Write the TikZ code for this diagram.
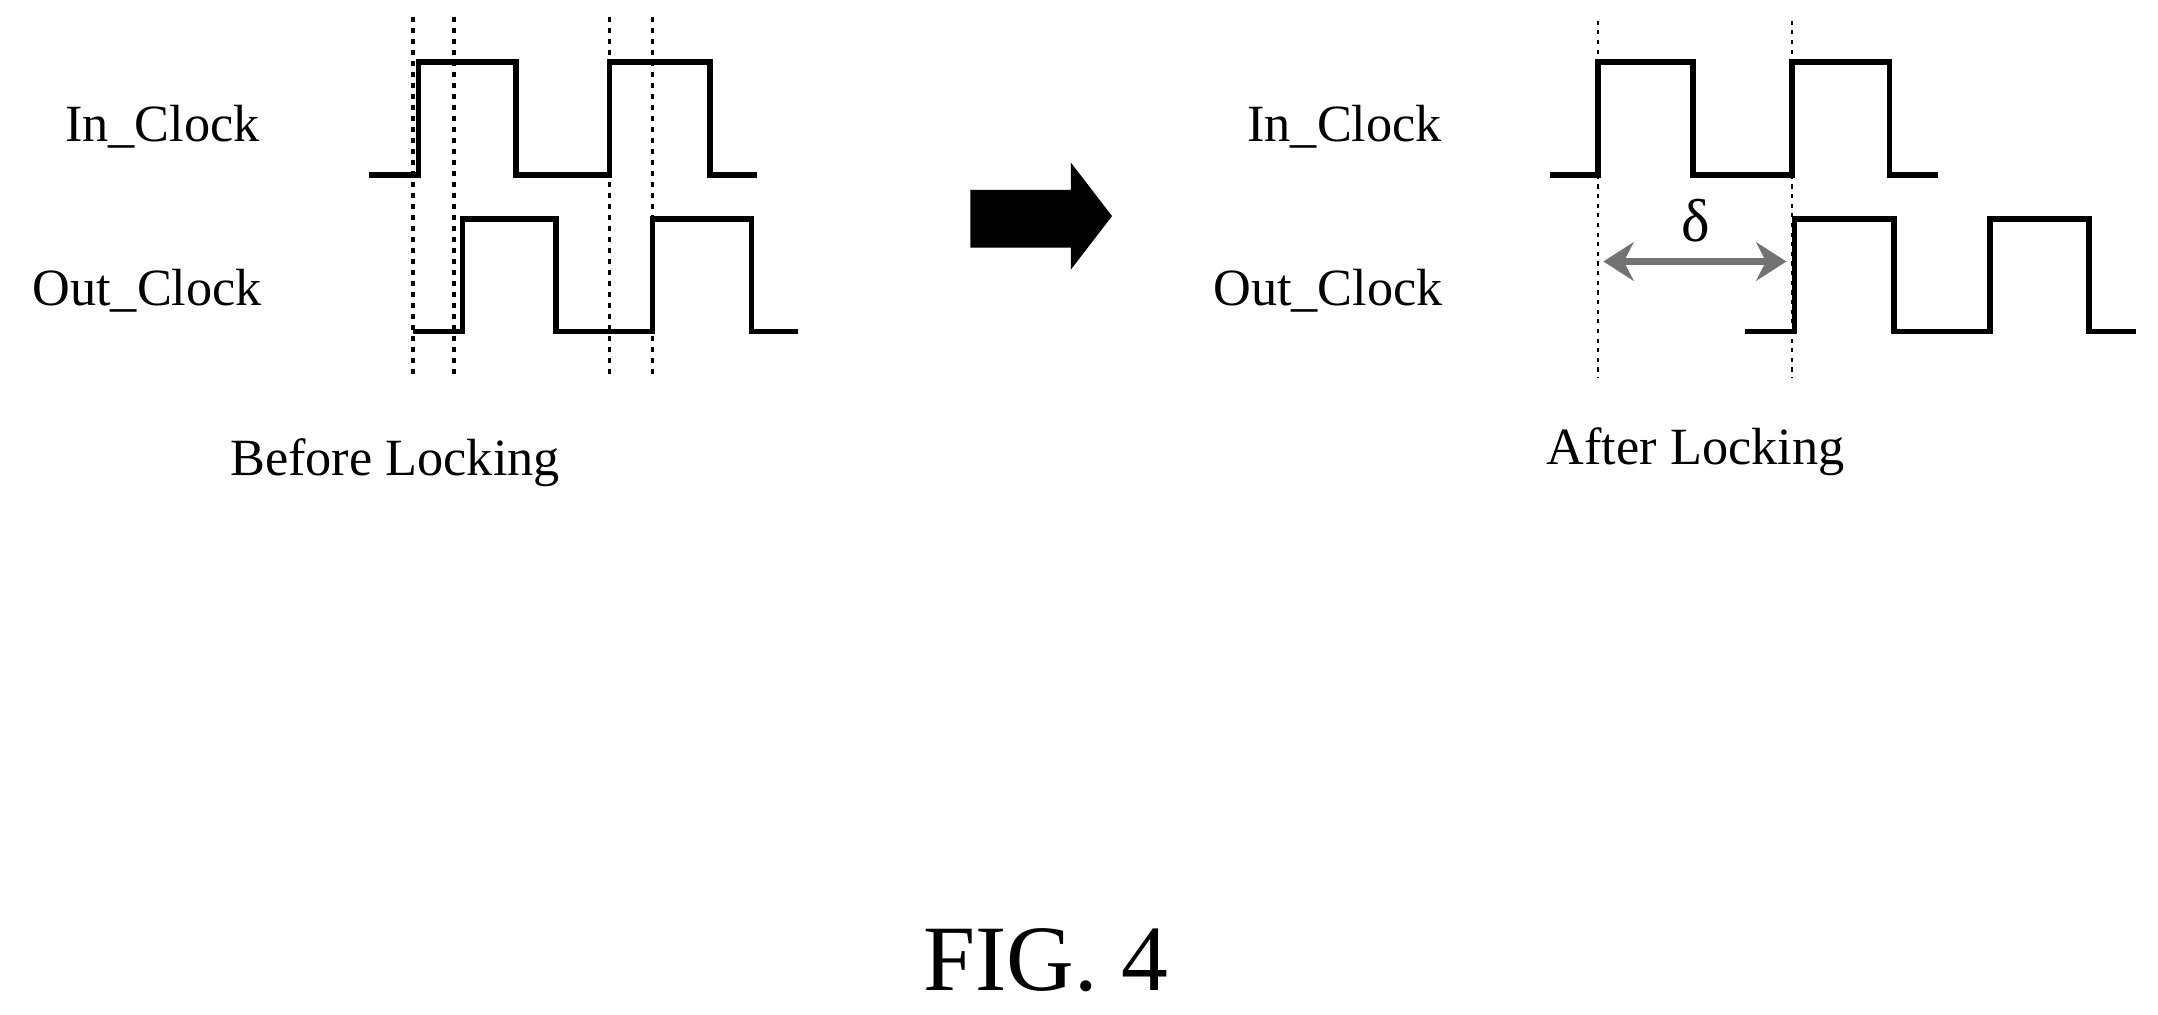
\documentclass[tikz,border=0pt]{standalone}
\usepackage{fontspec}
\setmainfont{Liberation Serif}
\usetikzlibrary{arrows.meta}
\begin{document}
\begin{tikzpicture}[x=1pt,y=-1pt,
  sig/.style={line width=4pt,line join=miter},
  guide/.style={line width=2.5pt,dash pattern=on 4pt off 4pt},
  guide2/.style={line width=2pt,dash pattern=on 3pt off 4pt},
  lbl/.style={font=\fontsize{38}{42}\selectfont,inner sep=0pt}]
\useasboundingbox (0,0) rectangle (1568,737);
\fill[white] (0,0) rectangle (1568,737);
% left
\draw[sig] (268,127) -- (304,127) -- (304,45) -- (375,45) -- (375,127) -- (443,127) -- (443,45) -- (516,45) -- (516,127) -- (550,127);
\draw[sig] (300,241) -- (336,241) -- (336,159) -- (404,159) -- (404,241) -- (474,241) -- (474,159) -- (546,159) -- (546,241) -- (580,241);
\foreach \x/\n in {300/a,330/b,443/c,474/d}{
  \coordinate (t\n) at (\x,12); \coordinate (b\n) at (\x,273);
  \draw[guide] (t\n) -- (b\n);}
\node[lbl] (inL) at (118,92) {In\_Clock};
\node[lbl] (outL) at (107,211) {Out\_Clock};
\node[lbl] (bef) at (287,336) {Before Locking};
% arrow
\fill[black] (705,138) -- (778,138) -- (778,118) -- (808,157) -- (778,196) -- (778,180) -- (705,180) -- cycle;
% right
\draw[sig] (1126,127) -- (1161,127) -- (1161,45) -- (1230,45) -- (1230,127) -- (1302,127) -- (1302,45) -- (1373,45) -- (1373,127) -- (1408,127);
\draw[sig] (1268,241) -- (1304,241) -- (1304,159) -- (1376,159) -- (1376,241) -- (1446,241) -- (1446,159) -- (1518,159) -- (1518,241) -- (1552,241);
\coordinate (te) at (1161,15); \coordinate (be) at (1161,275);
\coordinate (tf) at (1302,15); \coordinate (bf) at (1302,275);
\draw[guide2] (te) -- (be);
\draw[guide2] (tf) -- (bf);
\coordinate (dl) at (1165,190); \coordinate (dr) at (1298,190);
\draw[line width=5pt,draw=black!55,{Stealth[length=22pt,width=28pt]}-{Stealth[length=22pt,width=28pt]}] (dl) -- (dr);
\node[lbl,font=\fontsize{44}{48}\selectfont] (delta) at (1232,160) {δ};
\node[lbl] (inR) at (977,92) {In\_Clock};
\node[lbl] (outR) at (965,211) {Out\_Clock};
\node[lbl] (aft) at (1232,328) {After Locking};
\node[inner sep=0pt,font=\fontsize{68}{74}\selectfont] (fig) at (760,698) {FIG. 4};
\end{tikzpicture}
\end{document}
